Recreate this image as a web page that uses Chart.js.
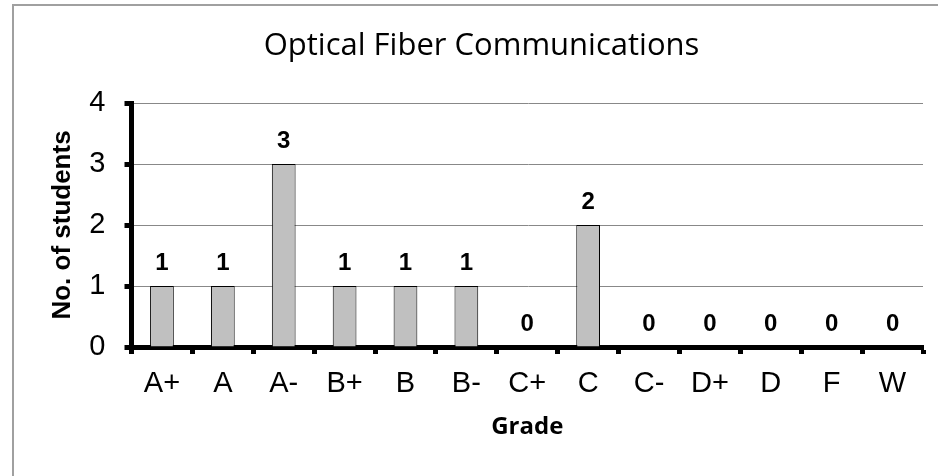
<!DOCTYPE html>
<html>
<head>
<meta charset="utf-8">
<script src="https://cdn.jsdelivr.net/npm/chart.js@4/dist/chart.umd.min.js"></script>
<style>
  body { margin: 0; background: #ffffff; }
  canvas { display: block; }
</style>
</head>
<body>
<canvas id="gradeChart" width="938" height="476"></canvas>
<script>
// Grades and the number of students who got each one
let grades = ["A+", "A", "A-", "B+", "B", "B-", "C+", "C", "C-", "D+", "D", "F", "W"];
let studentCounts = [1, 1, 3, 1, 1, 1, 0, 2, 0, 0, 0, 0, 0];
let yTicks = [0, 1, 2, 3, 4];

// White background and the grey frame of the chart box
let framePlugin =
{
    id: "frame",
    beforeDraw(chart)
    {
        let ctx = chart.ctx;
        ctx.save();
        ctx.fillStyle = "#ffffff";
        ctx.fillRect(0, 0, chart.width, chart.height);
        ctx.strokeStyle = "#a0a0a0";
        ctx.lineWidth = 2;
        ctx.beginPath();
        ctx.moveTo(13, chart.height);
        ctx.lineTo(13, 5);
        ctx.lineTo(chart.width, 5);
        ctx.stroke();
        ctx.restore();
    }
};

// Writes the value above every bar (zeros included)
let valueLabelsPlugin =
{
    id: "valueLabels",
    afterDatasetsDraw(chart)
    {
        let ctx = chart.ctx;
        let meta = chart.getDatasetMeta(0);
        ctx.save();
        ctx.font = "bold 24px 'Liberation Sans', Arial, sans-serif";
        ctx.fillStyle = "#000000";
        ctx.textAlign = "center";
        ctx.textBaseline = "middle";
        meta.data.forEach((bar, i) =>
        {
            ctx.fillText(String(studentCounts[i]), bar.x, bar.y - 23);
        });
        ctx.restore();
    }
};

new Chart(document.getElementById("gradeChart"),
{
    type: "bar",
    data:
    {
        labels: grades,
        datasets: [
            {
                data: studentCounts,
                backgroundColor: "#c0c0c0",
                borderColor: "#000000",
                borderWidth: 1,
                barPercentage: 0.39,
                categoryPercentage: 1
            }
        ]
    },
    options:
    {
        responsive: false,
        animation: false,
        layout: { padding: { left: 40, right: 15, top: 0, bottom: 34 } },
        plugins:
        {
            legend: { display: false },
            tooltip: { enabled: false },
            title:
            {
                display: true,
                text: "Optical Fiber Communications",
                color: "#000000",
                font: { family: "'Open Sans', sans-serif", size: 31, weight: "normal" },
                padding: { top: 28, bottom: 37.8 }
            }
        },
        scales:
        {
            x:
            {
                offset: true,
                afterFit: (scale) => { scale.height = 95; },
                border: { display: true, color: "#000000", width: 5 },
                grid:
                {
                    offset: true,
                    drawOnChartArea: false,
                    drawTicks: true,
                    tickLength: 7,
                    tickWidth: 5,
                    tickColor: "#000000"
                },
                ticks:
                {
                    color: "#000000",
                    padding: 13,
                    maxRotation: 0,
                    font: { family: "'Liberation Sans', Arial, sans-serif", size: 29 }
                },
                title:
                {
                    display: true,
                    text: "Grade",
                    color: "#000000",
                    font: { family: "'Open Sans', sans-serif", size: 24, weight: "bold" },
                    padding: { top: 0, bottom: 0 }
                }
            },
            y:
            {
                min: 0,
                max: 4,
                afterFit: (scale) => { scale.width = 91.5; },
                afterBuildTicks: (scale) => { scale.ticks = yTicks.map(v => ({ value: v })); },
                border: { display: true, color: "#000000", width: 5 },
                grid:
                {
                    color: (ctx) => (ctx.tick && ctx.tick.value === 0) ? "rgba(0,0,0,0)" : "#888888",
                    lineWidth: 1,
                    drawTicks: true,
                    tickLength: 7,
                    tickWidth: 5,
                    tickColor: "#000000"
                },
                ticks:
                {
                    color: "#000000",
                    padding: 19,
                    font: { family: "'Liberation Sans', Arial, sans-serif", size: 29 }
                },
                title:
                {
                    display: true,
                    text: "No. of students",
                    color: "#000000",
                    font: { family: "'Liberation Sans', Arial, sans-serif", size: 26, weight: "bold" },
                    padding: { top: 7, bottom: 0 }
                }
            }
        }
    },
    plugins: [framePlugin, valueLabelsPlugin]
});
</script>
</body>
</html>
